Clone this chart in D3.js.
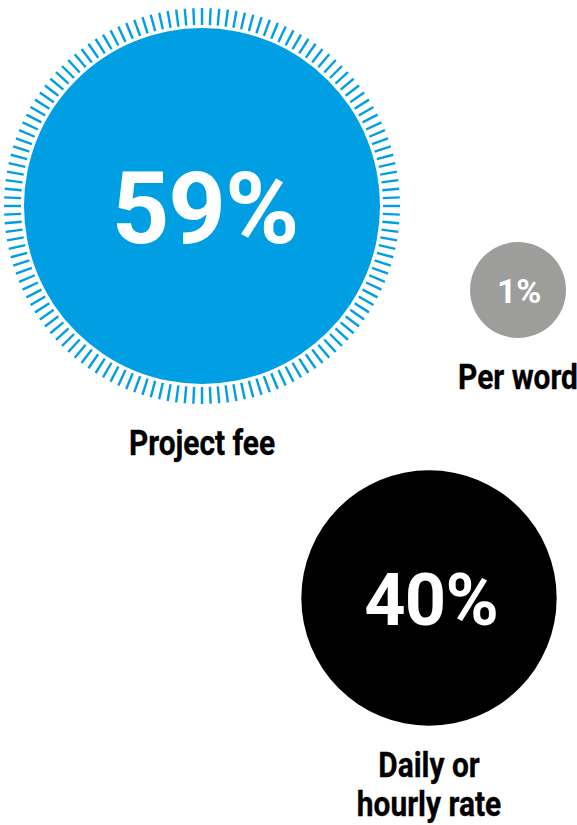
<!DOCTYPE html>
<html>
<head>
<meta charset="utf-8">
<script src="https://cdn.jsdelivr.net/npm/d3@7"></script>
<style>
  html, body { margin: 0; padding: 0; background: #fff; overflow: hidden; }
  svg { display: block; }
</style>
</head>
<body>
<svg id="chart" width="577" height="825"></svg>
<script>
// How work is billed: share of respondents per billing method
const categories = ["Project fee", "Per word", "Daily or hourly rate"];
const shares = [59, 1, 40];
const colors = ["#009fe3", "#9d9d9c", "#000000"];

// Bubble centres (layout only)
const centres = [[202, 206], [518, 290], [429, 598]];

const svg = d3.select("#chart");

// Circle radius grows with the share, with a floor so small shares stay legible
const rScale = d3.scalePow().exponent(1.25)
  .domain([1, d3.max(shares)])
  .range([48, 178]);

// Value font size follows the circle radius, never below a readable minimum
const valueFont = r => Math.max(34, r * 0.565);

const data = categories.map((c, i) => ({
  label: c,
  value: shares[i],
  color: colors[i],
  cx: centres[i][0],
  cy: centres[i][1],
  r: rScale(shares[i])
}));

const leader = d3.max(shares);
const tickCount = 144;
const tickGap = 3, tickLen = 17;

const g = svg.selectAll("g.bubble")
  .data(data)
  .join("g")
  .attr("class", "bubble")
  .attr("transform", d => `translate(${d.cx},${d.cy})`);

// Radial tick ring around the leading category
g.filter(d => d.value === leader).each(function (d) {
  const angles = d3.range(tickCount).map(k => (k / tickCount) * 2 * Math.PI);
  d3.select(this).selectAll("line.tick")
    .data(angles)
    .join("line")
    .attr("class", "tick")
    .attr("x1", a => Math.cos(a) * (d.r + tickGap))
    .attr("y1", a => Math.sin(a) * (d.r + tickGap))
    .attr("x2", a => Math.cos(a) * (d.r + tickGap + tickLen))
    .attr("y2", a => Math.sin(a) * (d.r + tickGap + tickLen))
    .attr("stroke", d.color)
    .attr("stroke-width", 2.4);
});

g.append("circle")
  .attr("r", d => d.r)
  .attr("fill", d => d.color);

g.append("text")
  .attr("text-anchor", "middle")
  .attr("dx", "0.03em")
  .attr("dy", "0.37em")
  .attr("fill", "#fff")
  .style("font-family", "Roboto, 'Noto Sans', sans-serif")
  .style("font-weight", 700)
  .style("letter-spacing", "-0.01em")
  .style("font-size", d => valueFont(d.r) + "px")
  .text(d => d3.format("d")(d.value) + "%");

// Category labels: bold, horizontally condensed, wrapped below each bubble
const labelSize = 36, condense = 0.83, lineHeight = 39, maxWidth = 150;

g.each(function (d) {
  const outer = d.value === leader ? d.r + tickGap + tickLen : d.r;
  const t = d3.select(this).append("text")
    .attr("text-anchor", "middle")
    .attr("fill", "#000")
    .attr("stroke", "#000")
    .attr("stroke-width", 0.35)
    .style("font-family", "Roboto, 'Noto Sans', sans-serif")
    .style("font-weight", 700)
    .style("font-size", labelSize + "px")
    .attr("transform", `translate(0,${outer + 51}) scale(${condense},1)`);

  const words = d.label.split(" ");
  let lines = [], line = [];
  const probe = t.append("tspan").attr("x", 0);
  words.forEach(w => {
    const trial = line.concat(w).join(" ");
    probe.text(trial);
    if (line.length && probe.node().getComputedTextLength() * condense > maxWidth) {
      lines.push(line.join(" "));
      line = [w];
    } else {
      line.push(w);
    }
  });
  lines.push(line.join(" "));
  probe.remove();

  t.selectAll("tspan")
    .data(lines)
    .join("tspan")
    .attr("x", 0)
    .attr("y", (l, i) => i * lineHeight)
    .text(l => l);
});
</script>
</body>
</html>
